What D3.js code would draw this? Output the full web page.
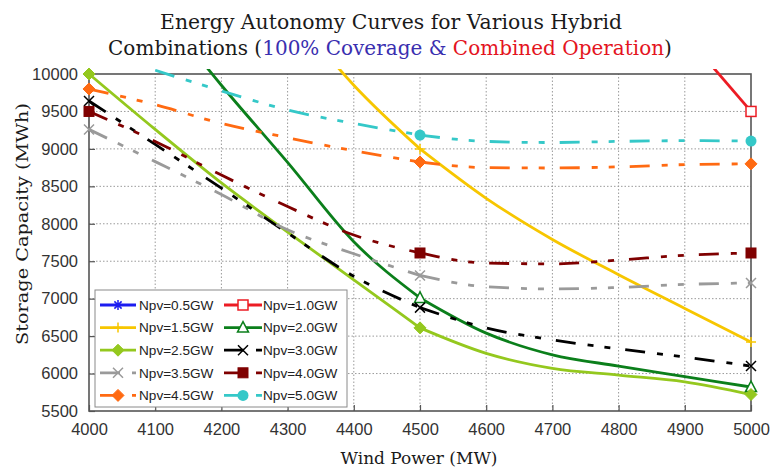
<!DOCTYPE html>
<html>
<head>
<meta charset="utf-8">
<script src="https://cdn.jsdelivr.net/npm/d3@7"></script>
<style>
  html, body { margin: 0; padding: 0; background: #fff; }
  svg { display: block; }
</style>
</head>
<body>
<svg id="chart" width="770" height="468"></svg>
<script>
// Wind power levels (MW) on the x axis
const windPower = [4000, 4100, 4200, 4300, 4400, 4500, 4600, 4700, 4800, 4900, 5000];

// Storage capacity (MWh) needed for each PV size; null = above the plotted range
const npv05 = [null, null, null, null, null, null, null, null, null, null, null];
const npv10 = [null, null, null, null, null, null, null, null, null, 10530, 9500];
const npv15 = [null, null, null, 10900, 9850, 9000, 8340, 7790, 7320, 6870, 6420];
const npv20 = [null, 10950, 9850, 8820, 7760, 7010, 6540, 6250, 6100, 5960, 5820];
const npv25 = [10000, 9260, 8545, 7890, 7250, 6610, 6270, 6070, 5980, 5890, 5720];
const npv30 = [9640, 9060, 8475, 7877, 7300, 6880, 6610, 6450, 6330, 6220, 6100];
const npv35 = [9260, 8830, 8390, 7920, 7600, 7310, 7160, 7130, 7150, 7190, 7210];
const npv40 = [9500, 9100, 8650, 8230, 7850, 7610, 7475, 7465, 7515, 7580, 7610];
const npv45 = [9800, 9590, 9340, 9150, 8975, 8825, 8750, 8745, 8760, 8790, 8800];
const npv50 = [null, 10050, 9775, 9520, 9340, 9185, 9100, 9085, 9100, 9110, 9105];

const seriesNames = ["Npv=0.5GW", "Npv=1.0GW", "Npv=1.5GW", "Npv=2.0GW", "Npv=2.5GW",
                     "Npv=3.0GW", "Npv=3.5GW", "Npv=4.0GW", "Npv=4.5GW", "Npv=5.0GW"];
const seriesValues = [npv05, npv10, npv15, npv20, npv25, npv30, npv35, npv40, npv45, npv50];

// Wind levels where a marker is placed
const markerWind = [4000, 4500, 5000];
// Segments drawn as separate strokes (the dash pattern restarts at 4500)
const segmentBreaks = [[4000, 4500], [4500, 5000]];

const xTicks = [4000, 4100, 4200, 4300, 4400, 4500, 4600, 4700, 4800, 4900, 5000];
const yTicks = [5500, 6000, 6500, 7000, 7500, 8000, 8500, 9000, 9500, 10000];

// Styling per series
const DASH = "20,12,6,11,6,15";
const styles = [
  { color: "#1c1cf0", dash: null, marker: "asterisk" },
  { color: "#ec1c24", dash: null, marker: "squareOpen" },
  { color: "#f7c600", dash: null, marker: "plus" },
  { color: "#0b7f1b", dash: null, marker: "triangleOpen" },
  { color: "#94c81e", dash: null, marker: "diamond" },
  { color: "#000000", dash: DASH, marker: "cross" },
  { color: "#9a9a9a", dash: DASH, marker: "cross" },
  { color: "#7f0000", dash: DASH, marker: "square" },
  { color: "#ff6a12", dash: DASH, marker: "diamond" },
  { color: "#35c8c8", dash: DASH, marker: "circle" }
];

const svg = d3.select("#chart");
const margin = { left: 89, right: 19, top: 74, bottom: 57 };
const W = 770, H = 468;
const x = d3.scaleLinear().domain([4000, 5000]).range([margin.left, W - margin.right]);
const y = d3.scaleLinear().domain([5500, 10000]).range([H - margin.bottom, margin.top]);

// Clip region for the curves (lets them run slightly past the top frame)
svg.append("defs").append("clipPath").attr("id", "plotClip")
  .append("rect")
  .attr("x", margin.left).attr("y", margin.top - 5)
  .attr("width", W - margin.left - margin.right)
  .attr("height", H - margin.top - margin.bottom + 5);

// Dotted grid
const grid = svg.append("g");
grid.selectAll("line.gx").data(xTicks.slice(1, -1)).join("line")
  .attr("x1", d => x(d)).attr("x2", d => x(d))
  .attr("y1", y(5500)).attr("y2", y(10000))
  .attr("stroke", "#9a9a9a").attr("stroke-width", 1).attr("stroke-dasharray", "1.5,2");
grid.selectAll("line.gy").data(yTicks.slice(1, -1)).join("line")
  .attr("y1", d => y(d)).attr("y2", d => y(d))
  .attr("x1", x(4000)).attr("x2", x(5000))
  .attr("stroke", "#9a9a9a").attr("stroke-width", 1).attr("stroke-dasharray", "1.5,2");

// Axes (ticks pointing inward, labels outside)
const xAxis = d3.axisBottom(x).tickValues(xTicks).tickFormat(d3.format("d"))
  .tickSizeInner(-6).tickSizeOuter(0).tickPadding(12);
const yAxis = d3.axisLeft(y).tickValues(yTicks).tickFormat(d3.format("d"))
  .tickSizeInner(-6).tickSizeOuter(0).tickPadding(11);

const gx = svg.append("g").attr("transform", `translate(0,${y(5500)})`).call(xAxis);
const gy = svg.append("g").attr("transform", `translate(${x(4000)},0)`).call(yAxis);
[gx, gy].forEach(g => {
  g.select(".domain").remove();
  g.selectAll(".tick line").attr("stroke", "#555").attr("stroke-width", 1.2);
  g.selectAll(".tick text").attr("fill", "#333")
    .style("font-family", "'Liberation Sans', Arial, sans-serif").style("font-size", "16.5px");
});

// Plot frame
svg.append("rect")
  .attr("x", x(4000)).attr("y", y(10000))
  .attr("width", x(5000) - x(4000)).attr("height", y(5500) - y(10000))
  .attr("fill", "none").attr("stroke", "#555").attr("stroke-width", 1.6);

// Marker drawing
function drawMarker(g, type, cx, cy, color) {
  const s = 5;
  switch (type) {
    case "squareOpen":
      g.append("rect").attr("x", cx - s).attr("y", cy - s).attr("width", 2 * s).attr("height", 2 * s)
        .attr("fill", "#fff").attr("stroke", color).attr("stroke-width", 1.5);
      break;
    case "square":
      g.append("rect").attr("x", cx - s).attr("y", cy - s).attr("width", 2 * s).attr("height", 2 * s)
        .attr("fill", color).attr("stroke", color).attr("stroke-width", 1);
      break;
    case "triangleOpen":
      g.append("path").attr("d", `M${cx},${cy - 6}L${cx + 5.5},${cy + 4.5}L${cx - 5.5},${cy + 4.5}Z`)
        .attr("fill", "#fff").attr("stroke", color).attr("stroke-width", 1.5);
      break;
    case "diamond":
      g.append("path").attr("d", `M${cx},${cy - 6}L${cx + 6},${cy}L${cx},${cy + 6}L${cx - 6},${cy}Z`)
        .attr("fill", color).attr("stroke", color).attr("stroke-width", 1);
      break;
    case "circle":
      g.append("circle").attr("cx", cx).attr("cy", cy).attr("r", 5.5).attr("fill", color);
      break;
    case "cross":
      g.append("path").attr("d", `M${cx - 5},${cy - 5}L${cx + 5},${cy + 5}M${cx - 5},${cy + 5}L${cx + 5},${cy - 5}`)
        .attr("stroke", color).attr("stroke-width", 1.5).attr("fill", "none");
      break;
    case "plus":
      g.append("path").attr("d", `M${cx - 5},${cy}L${cx + 5},${cy}M${cx},${cy - 5}L${cx},${cy + 5}`)
        .attr("stroke", color).attr("stroke-width", 1.5).attr("fill", "none");
      break;
    case "asterisk":
      g.append("path").attr("d", `M${cx - 5},${cy}L${cx + 5},${cy}M${cx},${cy - 5}L${cx},${cy + 5}M${cx - 3.6},${cy - 3.6}L${cx + 3.6},${cy + 3.6}M${cx - 3.6},${cy + 3.6}L${cx + 3.6},${cy - 3.6}`)
        .attr("stroke", color).attr("stroke-width", 1.5).attr("fill", "none");
      break;
  }
}

// Curves
const line = d3.line()
  .defined(d => d.v !== null)
  .x(d => x(d.w)).y(d => y(d.v))
  .curve(d3.curveMonotoneX);

const curves = svg.append("g").attr("clip-path", "url(#plotClip)");
const markers = svg.append("g");

seriesValues.forEach((vals, i) => {
  const st = styles[i];
  const pts = windPower.map((w, k) => ({ w, v: vals[k] }));
  segmentBreaks.forEach(([a, b]) => {
    const seg = pts.filter(p => p.w >= a && p.w <= b && p.v !== null);
    if (seg.length < 2) return;
    curves.append("path").datum(seg)
      .attr("d", line)
      .attr("fill", "none").attr("stroke", st.color)
      .attr("stroke-width", 2.8)
      .attr("stroke-linejoin", "round")
      .attr("stroke-dasharray", st.dash);
  });
  pts.filter(p => markerWind.includes(p.w) && p.v !== null && p.v <= 10000)
    .forEach(p => drawMarker(markers, st.marker, x(p.w), y(p.v), st.color));
});

// Legend
const lg = svg.append("g");
lg.append("rect").attr("x", 95).attr("y", 290).attr("width", 252).attr("height", 117)
  .attr("fill", "#fff").attr("stroke", "#8a8a8a").attr("stroke-width", 1);
const colX = [{ x0: 100, x1: 136, tx: 139 }, { x0: 224, x1: 262, tx: 263 }];
seriesNames.forEach((name, i) => {
  const col = colX[i % 2];
  const row = Math.floor(i / 2);
  const cy = 305 + row * 22.6;
  const st = styles[i];
  lg.append("line").attr("x1", col.x0).attr("x2", col.x1).attr("y1", cy).attr("y2", cy)
    .attr("stroke", st.color).attr("stroke-width", 2.8).attr("stroke-dasharray", st.dash);
  drawMarker(lg, st.marker, (col.x0 + col.x1) / 2, cy, st.color);
  lg.append("text").attr("x", col.tx).attr("y", cy).attr("dy", "0.36em")
    .attr("fill", "#222")
    .style("font-family", "'Liberation Sans', Arial, sans-serif").style("font-size", "13.6px")
    .text(name);
});

const serif = "Georgia, 'DejaVu Serif', serif";

// Text placed at (cx, cy) and squeezed horizontally to a target width
function fittedText(cx, cy, size, target, rotate) {
  const g = svg.append("g");
  const t = g.append("text").attr("x", 0).attr("y", 0).attr("text-anchor", "middle")
    .attr("fill", "#1a1a1a").style("font-family", serif).style("font-size", size + "px");
  return {
    text: t,
    fit() {
      const k = target / t.node().getComputedTextLength();
      g.attr("transform", `translate(${cx},${cy})${rotate ? " rotate(" + rotate + ")" : ""} scale(${k},1)`);
    }
  };
}

// Title
const t1 = fittedText(391, 29, 19.5, 462);
t1.text.text("Energy Autonomy Curves for Various Hybrid");
t1.fit();
const t2 = fittedText(390, 55, 19.5, 564);
t2.text.append("tspan").text("Combinations (");
t2.text.append("tspan").attr("fill", "#3a2fb0").text("100% Coverage & ");
t2.text.append("tspan").attr("fill", "#e4141e").text("Combined Operation");
t2.text.append("tspan").text(")");
t2.fit();

// Axis titles
const xt = fittedText(419, 464, 17.5, 157);
xt.text.text("Wind Power (MW)");
xt.fit();
const yt = fittedText(28, 224, 17.5, 242, -90);
yt.text.text("Storage Capacity (MWh)");
yt.fit();
</script>
</body>
</html>
